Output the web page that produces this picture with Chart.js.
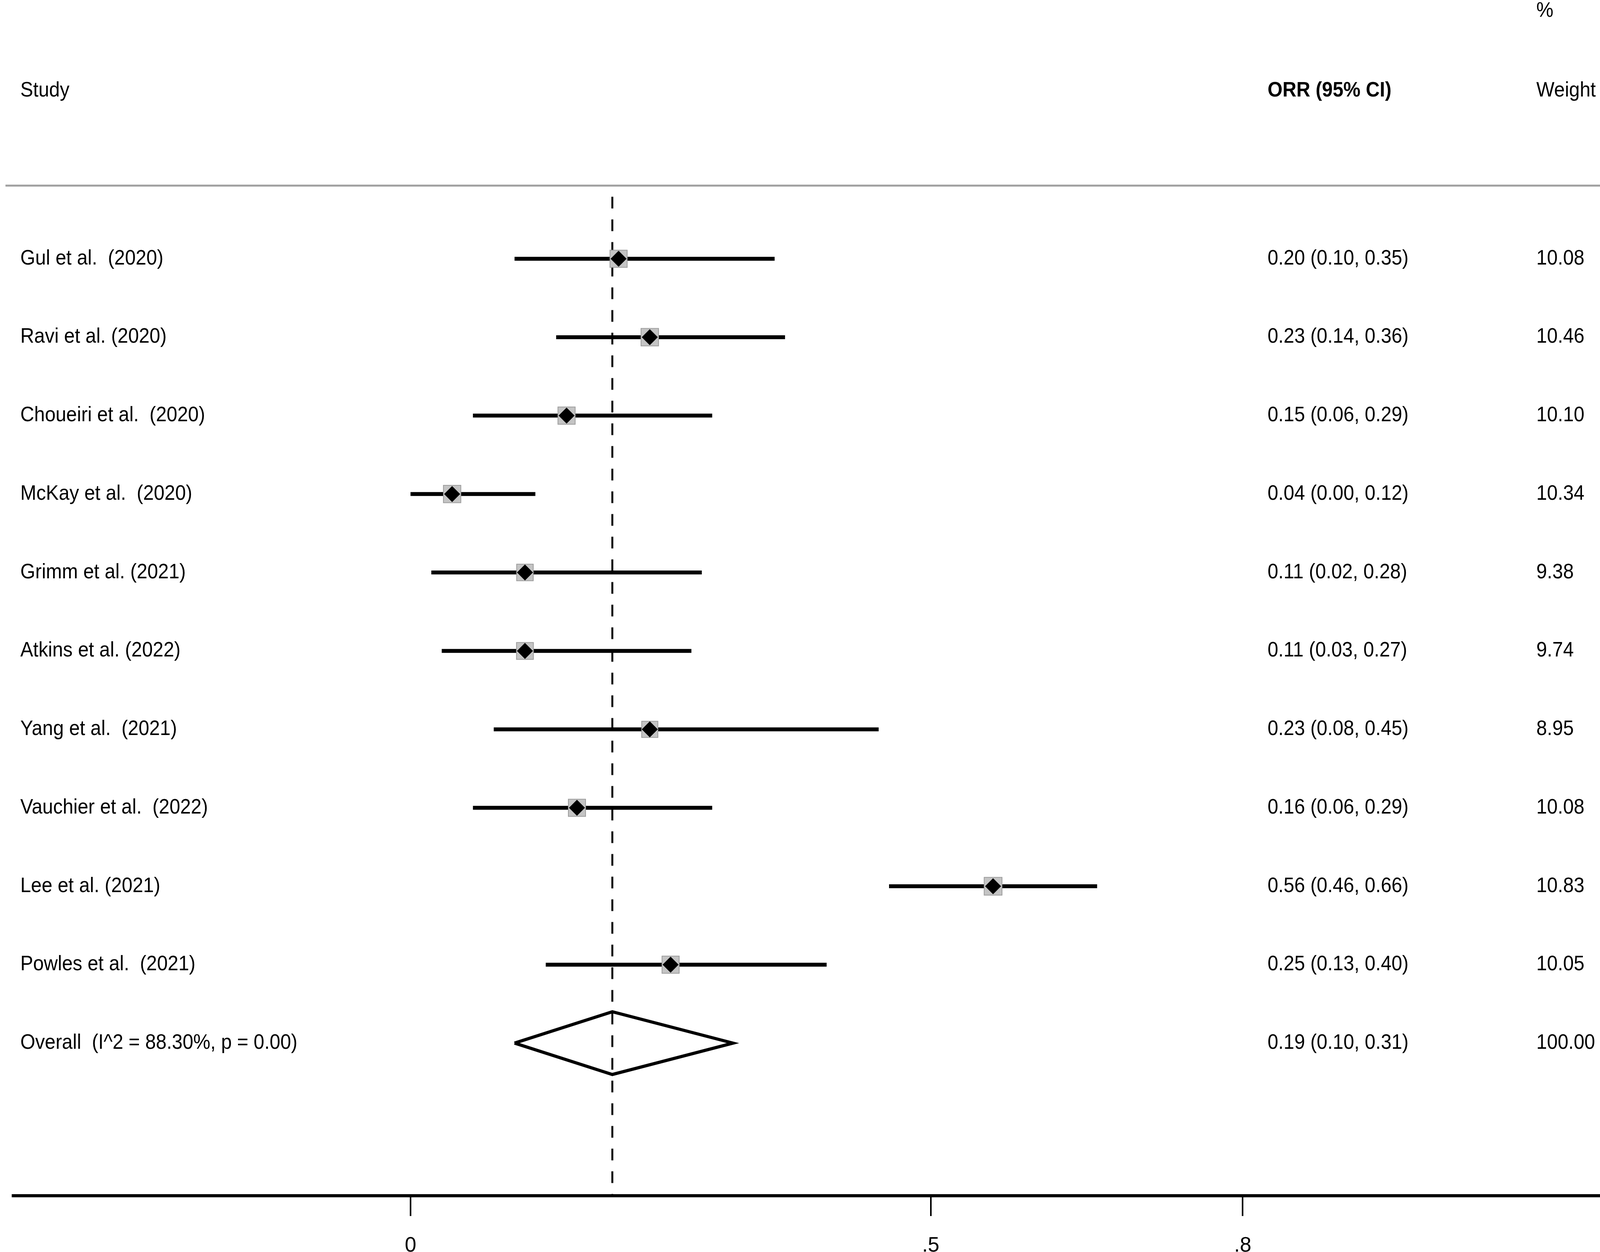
<!DOCTYPE html>
<html>
<head>
<meta charset="utf-8">
<script src="https://cdn.jsdelivr.net/npm/chart.js@4"></script>
<style>
  html, body { margin: 0; padding: 0; background: #fff; overflow: hidden; }
  canvas { display: block; }
</style>
</head>
<body>
<canvas id="forest" width="4331" height="3222"></canvas>
<script>
// study data
const studies = ['Gul et al.  (2020)', 'Ravi et al. (2020)', 'Choueiri et al.  (2020)', 'McKay et al.  (2020)',
    'Grimm et al. (2021)', 'Atkins et al. (2022)', 'Yang et al.  (2021)', 'Vauchier et al.  (2022)',
    'Lee et al. (2021)', 'Powles et al.  (2021)'];
const orr = [0.20, 0.23, 0.15, 0.04, 0.11, 0.11, 0.23, 0.16, 0.56, 0.25];
const ciLow = [0.10, 0.14, 0.06, 0.00, 0.02, 0.03, 0.08, 0.06, 0.46, 0.13];
const ciHigh = [0.35, 0.36, 0.29, 0.12, 0.28, 0.27, 0.45, 0.29, 0.66, 0.40];
const weights = ['10.08', '10.46', '10.10', '10.34', '9.38', '9.74', '8.95', '10.08', '10.83', '10.05'];

const overallLabel = 'Overall  (I^2 = 88.30%, p = 0.00)';
const overall = [0.194, 0.10, 0.31];   // estimate, low, high
const overallWeight = '100.00';

const tickValues = [0, 0.5, 0.8];
const tickLabels = ['0', '.5', '.8'];

// layout
const W = 4331, H = 3222;
const AXIS_Y = 3060;
const ZERO_PX = 1033, PX_PER_UNIT = 2706;
const ROW0_PX = 635, ROW_STEP = 203;
const HEADER_LINE_Y = 475;
const FONT = "'Liberation Sans Narrow', 'Liberation Sans', Arial, sans-serif";
const FONT_SIZE = 53;

const xMin = -ZERO_PX / PX_PER_UNIT;
const xMax = (W - ZERO_PX) / PX_PER_UNIT;
const yMin = -ROW0_PX / ROW_STEP;
const yMax = yMin + AXIS_Y / ROW_STEP;
const nRows = studies.length;

const fmt = v => v.toFixed(2);

// CI line for each study
const ciSets = studies.map((s, i) => ({
    data: [{ x: ciLow[i], y: i }, { x: ciHigh[i], y: i }],
    showLine: true,
    borderColor: '#000',
    borderWidth: 10,
    pointRadius: 0,
    order: 3
}));

const boxSet = {
    data: orr.map((v, i) => ({ x: v, y: i })),
    pointStyle: 'rect',
    pointRadius: weights.map(w => 31 * Math.sqrt(parseFloat(w) / 10)),
    backgroundColor: '#c4c4c4',
    borderColor: '#9c9c9c',
    borderWidth: 2,
    order: 2
};

const diamondSet = {
    data: orr.map((v, i) => ({ x: v, y: i })),
    pointStyle: 'rectRot',
    pointRadius: 20,
    backgroundColor: '#000',
    borderColor: '#000',
    borderWidth: 1,
    order: 1
};

const overallSet = {
    data: [
        { x: overall[1], y: nRows },
        { x: overall[0], y: nRows - 0.4 },
        { x: overall[2], y: nRows },
        { x: overall[0], y: nRows + 0.4 },
        { x: overall[1], y: nRows }
    ],
    showLine: true,
    borderColor: '#000',
    borderWidth: 8,
    borderJoinStyle: 'miter',
    pointRadius: 0,
    order: 2
};

const refLineSet = {
    data: [{ x: overall[0], y: -0.79 }, { x: overall[0], y: yMax }],
    showLine: true,
    borderColor: '#000',
    borderWidth: 5,
    borderDash: [30, 28],
    pointRadius: 0,
    order: 4
};

// table text and header rule
const textPlugin = {
    id: 'forestText',
    afterDraw(chart) {
        const ctx = chart.ctx;
        const y = chart.scales.y;
        ctx.save();
        ctx.font = FONT_SIZE + 'px ' + FONT;
        const sx = 361 / ctx.measureText('0.20 (0.10, 0.35)').width;
        ctx.restore();

        function txt(str, x, py, bold) {
            ctx.save();
            ctx.translate(x, py);
            ctx.scale(sx, 1);
            ctx.font = (bold ? 'bold ' : '') + FONT_SIZE + 'px ' + FONT;
            ctx.fillStyle = '#000';
            ctx.textBaseline = 'middle';
            ctx.textAlign = 'left';
            ctx.fillText(str, 0, 0);
            ctx.restore();
        }

        // header
        txt('%', 3933, 28, false);
        txt('Study', 52, 232, false);
        txt('ORR (95% CI)', 3245, 232, true);
        txt('Weight', 3933, 232, false);

        ctx.save();
        ctx.strokeStyle = '#a0a0a0';
        ctx.lineWidth = 5;
        ctx.beginPath();
        ctx.moveTo(14, HEADER_LINE_Y);
        ctx.lineTo(W, HEADER_LINE_Y);
        ctx.stroke();
        ctx.restore();

        studies.forEach((s, i) => {
            const py = y.getPixelForValue(i);
            txt(s, 52, py, false);
            txt(fmt(orr[i]) + ' (' + fmt(ciLow[i]) + ', ' + fmt(ciHigh[i]) + ')', 3245, py, false);
            txt(weights[i], 3933, py, false);
        });
        const py = y.getPixelForValue(nRows);
        txt(overallLabel, 52, py, false);
        txt(fmt(overall[0]) + ' (' + fmt(overall[1]) + ', ' + fmt(overall[2]) + ')', 3245, py, false);
        txt(overallWeight, 3933, py, false);
    }
};

const ctx = document.getElementById('forest').getContext('2d');
new Chart(ctx, {
    type: 'scatter',
    data: { datasets: [diamondSet, boxSet, overallSet].concat(ciSets, [refLineSet]) },
    options: {
        responsive: false,
        animation: false,
        devicePixelRatio: 1,
        layout: { padding: 0 },
        plugins: {
            legend: { display: false },
            tooltip: { enabled: false }
        },
        scales: {
            x: {
                type: 'linear',
                min: xMin,
                max: xMax,
                afterBuildTicks: scale => { scale.ticks = tickValues.map(v => ({ value: v })); },
                afterFit: scale => { scale.height = H - AXIS_Y; },
                ticks: {
                    callback: v => tickLabels[tickValues.indexOf(v)],
                    color: '#000',
                    padding: 45,
                    maxRotation: 0,
                    autoSkip: false,
                    font: { family: FONT, size: FONT_SIZE }
                },
                grid: {
                    drawOnChartArea: false,
                    drawTicks: true,
                    tickLength: 52,
                    color: '#000',
                    lineWidth: 4
                },
                border: { display: true, color: '#000', width: 8 }
            },
            y: {
                type: 'linear',
                display: false,
                reverse: true,
                min: yMin,
                max: yMax
            }
        }
    },
    plugins: [textPlugin]
});
</script>
</body>
</html>
